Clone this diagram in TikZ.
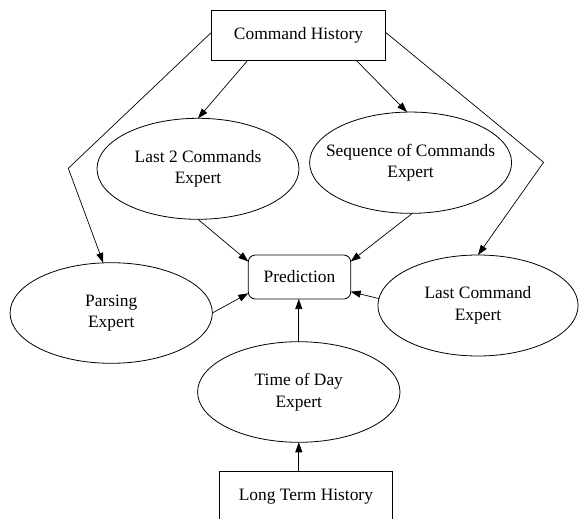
\documentclass[tikz,border=0pt]{standalone}
\usepackage{fontspec}
\setmainfont{Liberation Serif}
\usetikzlibrary{shapes.geometric,arrows.meta}
\begin{document}
\begin{tikzpicture}[x=1pt,y=-1pt,
  every node/.style={inner sep=0pt,outer sep=0pt,font=\fontsize{17.4}{21.7}\selectfont},
  box/.style={draw,line width=0.8pt,rectangle},
  rbox/.style={draw,line width=0.8pt,rectangle,rounded corners=7pt},
  oval/.style={draw,line width=0.8pt,ellipse},
  lbl/.style={align=center},
  edge/.style={line width=0.7pt,-{Triangle[length=10pt,width=7pt]}}
]
\clip (0,0) rectangle (579,519);
% nodes
\node[box,minimum width=174pt,minimum height=50.7pt] (ch) at (298.5,35.3) {Command History};
\node[oval,minimum width=202pt,minimum height=101pt] (l2) at (198,168.8) {};
\node[lbl] (l2t) at (l2.center) {Last 2 Commands\\Expert};
\node[oval,minimum width=202pt,minimum height=101.3pt] (seq) at (410.6,162.7) {};
\node[lbl] (seqt) at (seq.center) {Sequence of Commands\\Expert};
\node[rbox,minimum width=102.4pt,minimum height=44pt] (pred) at (299.5,277) {Prediction};
\node[oval,minimum width=202.3pt,minimum height=100.6pt] (parse) at (111.2,313) {};
\node[lbl] (parset) at (parse.center) {Parsing\\Expert};
\node[oval,minimum width=200.2pt,minimum height=101pt] (lc) at (478,305.5) {};
\node[lbl] (lct) at (lc.center) {Last Command\\Expert};
\node[oval,minimum width=202.4pt,minimum height=100.6pt] (tod) at (298.8,392) {};
\node[lbl] (todt) at (tod.center) {Time of Day\\Expert};
\node[box,minimum width=173.7pt,minimum height=50.6pt] (lth) at (305.9,497) {Long Term History};
% bend points
\coordinate (bl) at (68.3,168.3);
\coordinate (br) at (543.6,162.3);
% edges
\draw[edge] ([xshift=-51pt]ch.south) -- (l2.north);
\draw[edge] ([xshift=58pt]ch.south) -- (seq.94);
\draw[edge] ([yshift=3pt]ch.west) -- (bl) -- (parse.99);
\draw[edge] ([yshift=3pt]ch.east) -- (br) -- (lc.north);
\draw[edge] (l2.south) -- ([yshift=-6.5pt]pred.north west);
\draw[edge] (seq.-88) -- ([yshift=-6.5pt]pred.north east);
\draw[edge] (parse.east) -- ([yshift=5.7pt]pred.south west);
\draw[edge] (lc.176) -- ([yshift=7.3pt]pred.south east);
\draw[edge] (tod.north) -- (tod.north |- pred.south);
\draw[edge] (tod.south |- lth.north) -- (tod.south);
\end{tikzpicture}
\end{document}
